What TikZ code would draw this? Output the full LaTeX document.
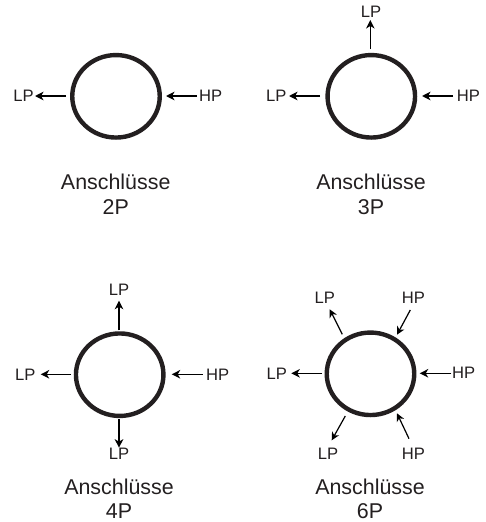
\documentclass[tikz,border=0pt]{standalone}
\usepackage{fontspec}
\setmainfont{Liberation Sans}
\usetikzlibrary{shapes.geometric,arrows.meta}
\definecolor{ink}{HTML}{231F20}
\tikzset{
  ring/.style={draw=ink,ellipse,line width=4.4pt,minimum width=87.5pt,minimum height=82.5pt,inner sep=0pt},
  port/.style={text=ink,font=\fontsize{16.6pt}{18pt}\selectfont,inner sep=0pt},
  title/.style={text=ink,font=\fontsize{21.4pt}{24pt}\selectfont,inner sep=0pt},
  flow/.style={draw=black,line width=1.6pt,-{Stealth[length=8.5pt,width=8.5pt,inset=2.5pt]}},
  thinflow/.style={draw=black,line width=1.2pt,-{Stealth[length=8pt,width=8pt,inset=2.5pt]}}
}
\begin{document}
\begin{tikzpicture}[x=1pt,y=-1pt]
\useasboundingbox (0,0) rectangle (486,522);
% 2P
\node[ring] (a) at (116,96.3) {};
\node[port] (aL) at (23.5,96) {LP};
\node[port] (aH) at (210.7,96) {HP};
\node[title] (aT) at (115.7,182) {Anschlüsse};
\node[title] (aN) at (115.7,206.7) {2P};
\coordinate (a1s) at (66,96); \coordinate (a1e) at (35,96);
\coordinate (a2s) at (197,96); \coordinate (a2e) at (166,96);
\draw[flow] (a1s) -- (a1e);
\draw[flow] (a2s) -- (a2e);
% 3P
\node[ring] (b) at (371.3,96.3) {};
\node[port] (bU) at (371,11.7) {LP};
\node[port] (bL) at (276.3,96) {LP};
\node[port] (bH) at (468.3,96) {HP};
\node[title] (bT) at (371,182) {Anschlüsse};
\node[title] (bN) at (371,206.7) {3P};
\coordinate (b1s) at (370.3,49); \coordinate (b1e) at (370.3,20);
\coordinate (b2s) at (320,96); \coordinate (b2e) at (289,96);
\coordinate (b3s) at (453,96); \coordinate (b3e) at (422,96);
\draw[flow] (b1s) -- (b1e);
\draw[flow] (b2s) -- (b2e);
\draw[flow] (b3s) -- (b3e);
% 4P
\node[ring] (c) at (119.7,374.7) {};
\node[port] (cU) at (119,290) {LP};
\node[port] (cL) at (25.3,374.3) {LP};
\node[port] (cH) at (217.7,374.3) {HP};
\node[port] (cD) at (119,454) {LP};
\node[title] (cT) at (119,486.7) {Anschlüsse};
\node[title] (cN) at (119,510.7) {4P};
\coordinate (c1s) at (119,330.3); \coordinate (c1e) at (119,300.7);
\coordinate (c2s) at (71,374.3); \coordinate (c2e) at (40.7,374.3);
\coordinate (c3s) at (202.7,374.3); \coordinate (c3e) at (171.7,374.3);
\coordinate (c4s) at (119,419); \coordinate (c4e) at (119,447.7);
\draw[flow] (c1s) -- (c1e);
\draw[flow] (c2s) -- (c2e);
\draw[flow] (c3s) -- (c3e);
\draw[flow] (c4s) -- (c4e);
% 6P
\node[ring] (d) at (370.5,373.8) {};
\node[port] (dUL) at (324.7,298) {LP};
\node[port] (dUR) at (413.3,298) {HP};
\node[port] (dL) at (276.7,373.3) {LP};
\node[port] (dR) at (463.7,373) {HP};
\node[port] (dDL) at (328,453.3) {LP};
\node[port] (dDR) at (413.3,453.3) {HP};
\node[title] (dT) at (370,486.7) {Anschlüsse};
\node[title] (dN) at (370,510.7) {6P};
\coordinate (d1s) at (322,373.3); \coordinate (d1e) at (291.3,373.3);
\coordinate (d2s) at (451.3,373.3); \coordinate (d2e) at (419.7,373.3);
\coordinate (d3s) at (342.3,334.3); \coordinate (d3e) at (329.7,309.3);
\coordinate (d4s) at (410.3,310); \coordinate (d4e) at (397,334.7);
\coordinate (d5s) at (345.3,416); \coordinate (d5e) at (331.7,440.3);
\coordinate (d6s) at (409,438.7); \coordinate (d6e) at (397,413.3);
\draw[flow] (d1s) -- (d1e);
\draw[flow] (d2s) -- (d2e);
\draw[thinflow] (d3s) -- (d3e);
\draw[thinflow] (d4s) -- (d4e);
\draw[thinflow] (d5s) -- (d5e);
\draw[thinflow] (d6s) -- (d6e);
\end{tikzpicture}
\end{document}
